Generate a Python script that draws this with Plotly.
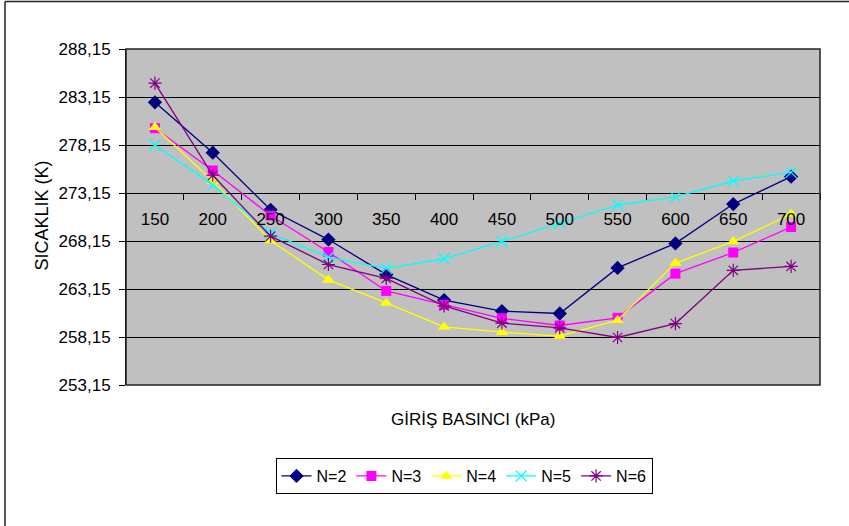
import plotly.graph_objects as go

# Inlet pressure categories (kPa)
pressure = ["150", "200", "250", "300", "350", "400", "450", "500", "550", "600", "650", "700"]

# Temperature (K) for each number of stages
n2 = [282.6, 277.35, 271.4, 268.3, 264.65, 262.0, 260.85, 260.6, 265.35, 267.9, 272.0, 274.85]
n3 = [279.9, 275.5, 270.8, 267.0, 262.95, 261.5, 260.1, 259.35, 260.15, 264.75, 266.95, 269.6]
n4 = [280.0, 274.4, 268.2, 264.1, 261.7, 259.2, 258.65, 258.25, 259.9, 265.85, 268.1, 270.95]
n5 = [278.15, 274.0, 268.95, 266.45, 265.3, 266.3, 268.1, 270.0, 271.9, 272.75, 274.4, 275.3]
n6 = [284.6, 275.0, 268.65, 265.7, 264.25, 261.4, 259.6, 259.1, 258.1, 259.55, 265.1, 265.5]

series_names = ["N=2", "N=3", "N=4", "N=5", "N=6"]

# Y axis ticks
y_ticks = [253.15, 258.15, 263.15, 268.15, 273.15, 278.15, 283.15, 288.15]
y_tick_text = ["253,15", "258,15", "263,15", "268,15", "273,15", "278,15", "283,15", "288,15"]
y_min, y_max = 253.15, 288.15
x_cross = 273.15

styles = [
    dict(color="#000080", symbol="diamond", size=11, lw=0),
    dict(color="#FF00FF", symbol="square", size=10, lw=0),
    dict(color="#FFFF00", symbol="triangle-up", size=11, lw=0),
    dict(color="#00FFFF", symbol="x-thin-open", size=11, lw=1.3),
    dict(color="#800080", symbol="asterisk-open", size=11, lw=1.2),
]

FONT = "Liberation Sans, Arial, sans-serif"

fig = go.Figure()
for name, vals, st in zip(series_names, [n2, n3, n4, n5, n6], styles):
    fig.add_trace(go.Scatter(
        x=pressure, y=vals, name=name, mode="lines+markers",
        line=dict(color=st["color"], width=1.3),
        marker=dict(symbol=st["symbol"], size=st["size"], color=st["color"],
                    line=dict(color=st["color"], width=st["lw"])),
    ))

W, H = 849, 526
L, R, T, B = 126, 820, 49, 385
pw, ph = R - L, B - T

def px_x(p):
    return (p - L) / pw

def px_y(p):
    return (B - p) / ph

fig.update_layout(
    width=W, height=H,
    margin=dict(l=L, r=W - R, t=T, b=H - B),
    paper_bgcolor="white",
    plot_bgcolor="#C0C0C0",
    font=dict(family=FONT, size=16, color="black"),
    showlegend=True,
    legend=dict(
        orientation="h", x=px_x(464), xanchor="center", y=px_y(458), yanchor="top",
        bordercolor="black", borderwidth=1, bgcolor="white",
        font=dict(family=FONT, size=16), itemwidth=30, tracegroupgap=0,
    ),
    xaxis=dict(
        type="category", range=[-0.5, 11.5],
        anchor="free", position=(x_cross - y_min) / (y_max - y_min),
        showgrid=False, showline=False, zeroline=False,
        ticks="outside", tickson="boundaries", ticklen=6, tickcolor="black",
        tickwidth=1, tickfont=dict(family=FONT, size=17),
        ticklabelstandoff=14,
        fixedrange=True,
    ),
    yaxis=dict(
        range=[y_min, y_max], tickvals=y_ticks, ticktext=y_tick_text,
        showgrid=True, gridcolor="black", gridwidth=1,
        showline=True, linecolor="black", linewidth=1,
        ticks="outside", ticklen=6, tickcolor="black",
        tickfont=dict(family=FONT, size=17), zeroline=False,
        ticklabelstandoff=5,
    ),
)

# Plot-area frame
fig.add_shape(type="rect", xref="paper", yref="paper", x0=0, y0=0, x1=1, y1=1,
              line=dict(color="#222222", width=1.5), layer="above")
# Outer chart frame (top and left edges)
fig.add_shape(type="line", xref="paper", yref="paper",
              x0=px_x(5), y0=px_y(1.5), x1=px_x(900), y1=px_y(1.5),
              line=dict(color="#222222", width=1.5))
fig.add_shape(type="line", xref="paper", yref="paper",
              x0=px_x(5), y0=px_y(1.5), x1=px_x(5), y1=px_y(600),
              line=dict(color="#222222", width=1.5))

fig.add_annotation(text="GİRİŞ BASINCI (kPa)", xref="paper", yref="paper",
                   x=px_x(473), y=px_y(419), xanchor="center", yanchor="middle",
                   showarrow=False, font=dict(family=FONT, size=17))
fig.add_annotation(text="SICAKLIK (K)", xref="paper", yref="paper",
                   x=px_x(41.5), y=px_y(216), xanchor="center", yanchor="middle",
                   textangle=-90, showarrow=False, font=dict(family=FONT, size=18))

fig.write_html("out.html")
